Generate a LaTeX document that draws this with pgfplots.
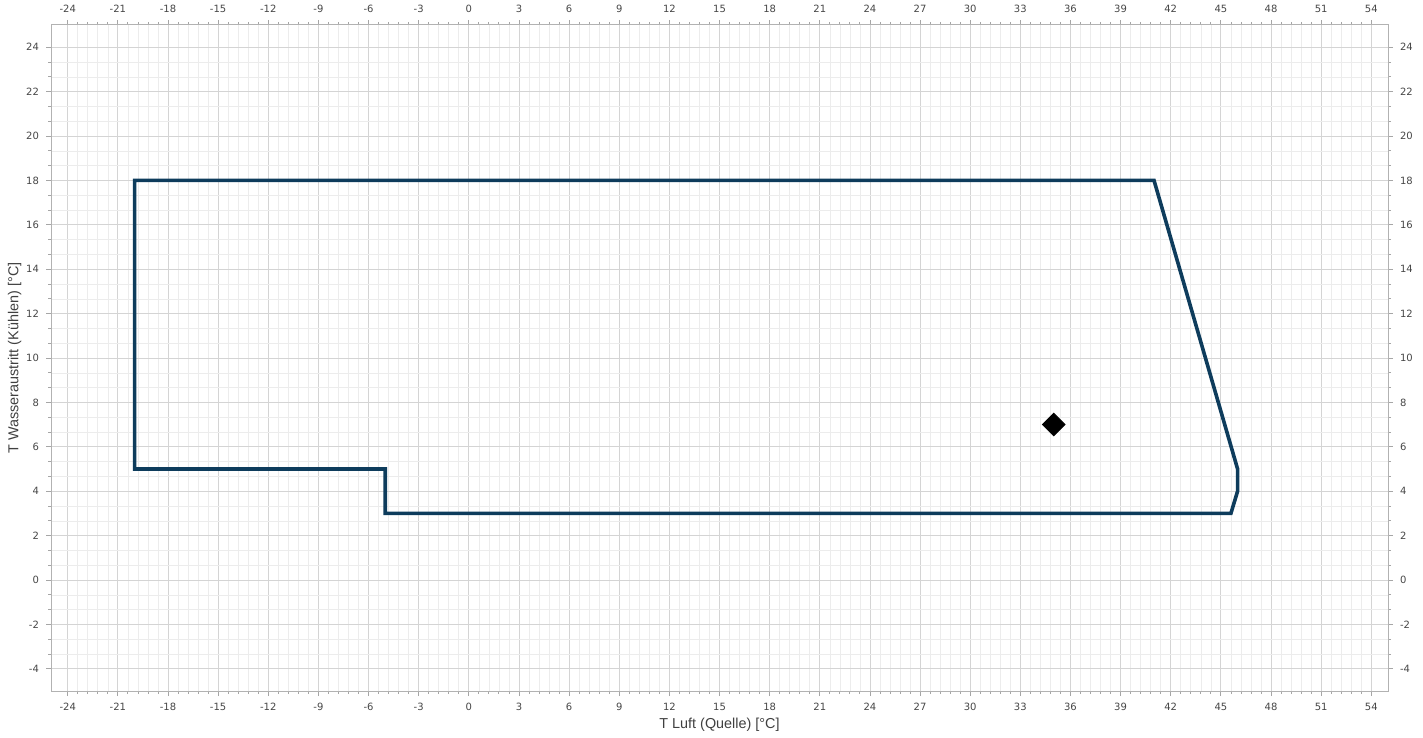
\documentclass[border=0pt]{standalone}
\usepackage{pgfplots}
\pgfplotsset{compat=1.18}
\usepackage{fontspec}
\setmainfont{DejaVu Sans}
\newfontfamily\labelfont{Liberation Sans}
\definecolor{envline}{RGB}{14,60,92}
\definecolor{majgrid}{RGB}{212,212,212}
\definecolor{mingrid}{RGB}{236,236,236}
\definecolor{ticktext}{RGB}{70,70,70}
\begin{document}
\begin{tikzpicture}
\useasboundingbox (-25.5pt,-23.5pt) rectangle (686pt,345.5pt);
\pgfplotsset{
  common/.style={
    scale only axis, width=668.5pt, height=333pt,
    xmin=-25, xmax=55, ymin=-5, ymax=25,
    xtick={-24,-21,...,54}, ytick={-4,-2,...,24},
    minor x tick num=4, minor y tick num=2,
    tick label style={font=\fontsize{5pt}{6pt}\selectfont, text=ticktext},
    /pgf/number format/assume math mode=true,
    tick align=outside,
    major tick length=2.5pt, minor tick length=1.5pt,
  }
}
\begin{axis}[common,
  axis line style={draw=black!30, line width=0.5pt},
  tick style={draw=black!35, line width=0.4pt},
  xtick pos=both, ytick pos=both,
  xticklabel pos=lower, yticklabel pos=left,
  grid=both,
  major grid style={draw=majgrid, line width=0.4pt},
  minor grid style={draw=mingrid, line width=0.3pt},
  xlabel={T Luft (Quelle) [°C]},
  ylabel={T Wasseraustritt (Kühlen) [°C]},
  label style={font=\labelfont\fontsize{7.2pt}{8pt}\selectfont, text=black!75},
  xlabel style={yshift=3pt},
  ylabel style={yshift=-4.5pt},
  clip=false,
]
\addplot[envline, line width=1.8pt, line join=miter] coordinates {
  (-20,18) (41,18) (46,5) (46,4) (45.6,3) (-5,3) (-5,5) (-20,5) (-20,18)
} -- cycle;
\addplot[only marks, mark=square*, mark size=4pt, mark options={rotate=45, fill=black, draw=black}] coordinates {(35,7)};
\end{axis}
\begin{axis}[common,
  axis line style={draw=none},
  tick style={draw=none},
  xtick pos=upper, ytick pos=right,
  xticklabel pos=upper, yticklabel pos=right,
  minor x tick num=0, minor y tick num=0,
]
\end{axis}
\end{tikzpicture}
\end{document}
